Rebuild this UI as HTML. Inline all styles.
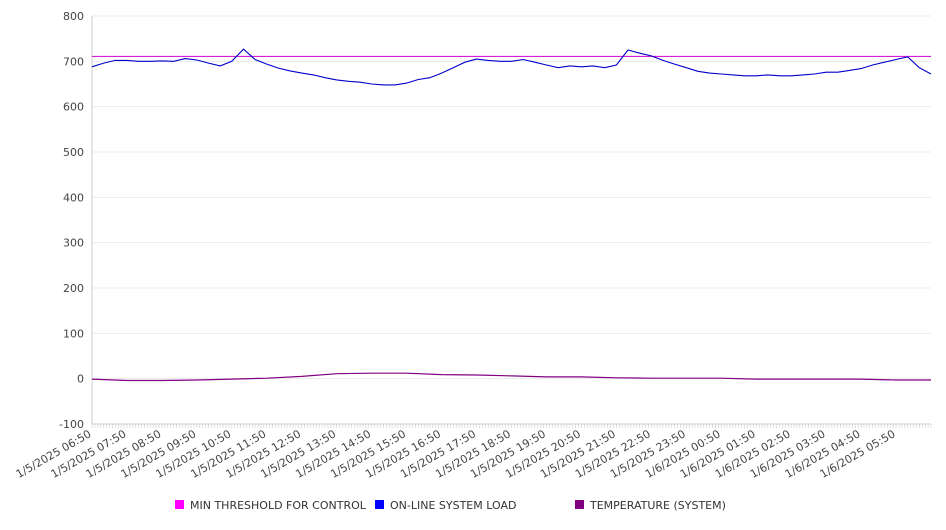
<!DOCTYPE html>
<html><head><meta charset="utf-8"><style>
body{margin:0;background:#fff;font-family:"DejaVu Sans","Liberation Sans",sans-serif;}
svg text{font-family:"DejaVu Sans","Liberation Sans",sans-serif;}
</style></head><body>
<svg id="chart" width="946" height="526" xmlns="http://www.w3.org/2000/svg"></svg>
<script>
const yTicks=[800,700,600,500,400,300,200,100,0,-100];
const xLabels=["1/5/2025 06:50","1/5/2025 07:50","1/5/2025 08:50","1/5/2025 09:50","1/5/2025 10:50","1/5/2025 11:50","1/5/2025 12:50","1/5/2025 13:50","1/5/2025 14:50","1/5/2025 15:50","1/5/2025 16:50","1/5/2025 17:50","1/5/2025 18:50","1/5/2025 19:50","1/5/2025 20:50","1/5/2025 21:50","1/5/2025 22:50","1/5/2025 23:50","1/6/2025 00:50","1/6/2025 01:50","1/6/2025 02:50","1/6/2025 03:50","1/6/2025 04:50","1/6/2025 05:50"];
const threshold=711;
// load, every 20 minutes
const loadValues=[688,696,702,702,700,700,701,700,706,703,696,690,700,727,704,694,685,679,674,670,664,659,656,654,650,648,648,652,660,664,674,686,698,705,702,700,700,704,698,692,686,690,688,690,686,692,725,718,712,702,694,686,678,674,672,670,668,668,670,668,668,670,672,676,676,680,684,692,698,704,710,686,672];
// temperature, hourly
const tempValues=[-1,-4,-4,-3,-1,1,5,11,12,12,9,8,6,4,4,2,1,1,1,-1,-1,-1,-1,-3,-3];
const svg=document.getElementById('chart');
const NS='http://www.w3.org/2000/svg';
const X0=92,X1=931,Y0=16,Y1=424,vMin=-100,vMax=800;
const totalMin=24*60;
function xs(m){return X0+(X1-X0)*m/totalMin;}
function ys(v){return Y1-(v-vMin)/(vMax-vMin)*(Y1-Y0);}
function el(t,a,p){const e=document.createElementNS(NS,t);for(const k in a)e.setAttribute(k,a[k]);(p||svg).appendChild(e);return e;}
yTicks.forEach(v=>{
 const g=el('line',{x1:X0,x2:X1,y1:ys(v),y2:ys(v),stroke:'#ebebeb','stroke-width':1});
 
 
 const t=el('text',{x:X0-8,y:ys(v)+4,'text-anchor':'end','font-size':11,fill:'#444'});
 t.textContent=v;
 
 
});
const ax=el('line',{x1:X0,x2:X0,y1:Y0,y2:Y1,stroke:'#ccc'});


const bx=el('line',{x1:X0,x2:X1,y1:Y1,y2:Y1,stroke:'#ccc'});


for(let m=0;m<=totalMin;m+=5){const tk=el('line',{x1:xs(m),x2:xs(m),y1:Y1,y2:Y1+4,stroke:'#ccc','stroke-width':0.6});
 
 }
xLabels.forEach((l,i)=>{const x=xs(i*60);
 const t=el('text',{x:x,y:Y1+12,'text-anchor':'end','font-size':11,fill:'#444',transform:`rotate(-30 ${x} ${Y1+12})`});
 t.textContent=l;
 
 });
const th=el('line',{x1:X0,x2:X1,y1:ys(threshold),y2:ys(threshold),stroke:'#d000d0','stroke-width':1});


const lp=loadValues.map((v,i)=>xs(i*20).toFixed(1)+','+ys(v).toFixed(1)).join(' ');
const ll=el('polyline',{points:lp,fill:'none',stroke:'#0000cc','stroke-width':1.1});


const tp=tempValues.map((v,i)=>xs(i*60).toFixed(1)+','+ys(v).toFixed(1)).join(' ');
const tl=el('polyline',{points:tp,fill:'none',stroke:'#800080','stroke-width':1.2});


const leg=[["MIN THRESHOLD FOR CONTROL","#ff00ff",175],["ON-LINE SYSTEM LOAD","#0000ff",375],["TEMPERATURE (SYSTEM)","#800080",575]];
leg.forEach(d=>{
 const g=el('g',{});
 
 
 el('rect',{x:d[2],y:500,width:9,height:9,fill:d[1]},g);
 const t=el('text',{x:d[2]+15,y:509,'font-size':11,fill:'#333'},g);t.textContent=d[0];
});
</script>
</body></html>
